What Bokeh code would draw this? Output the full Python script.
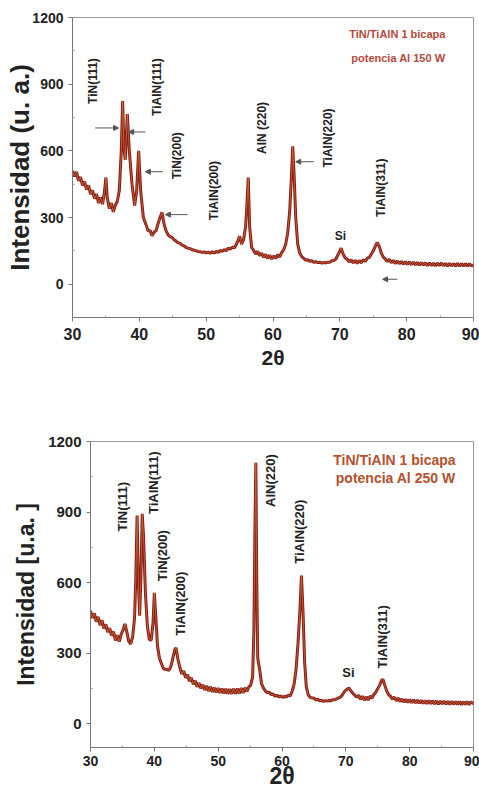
import math
from bokeh.plotting import figure
from bokeh.models import Range1d, FixedTicker, Arrow, NormalHead, ColumnDataSource
from bokeh.embed import file_html
from bokeh.resources import INLINE
from bokeh.core.properties import value

# ---------------- data: 150 W ----------------
tth_150 = [30.0, 30.3, 30.6, 30.9, 31.2, 31.5, 31.8, 32.1, 32.4, 32.7, 33.0, 33.3, 33.6, 33.9, 34.2, 34.5, 34.8, 35.0, 35.2, 35.5,
           35.8, 36.1, 36.4, 36.7, 37.0, 37.3, 37.5, 37.7, 37.9, 38.2, 38.5, 38.9, 39.3, 39.6, 39.9, 40.2, 40.6, 41.0, 41.3, 41.6,
           41.9, 42.2, 42.5, 42.8, 43.1, 43.4, 43.7, 44.0, 44.3, 44.6, 44.9, 45.2, 45.5, 45.8, 46.1, 46.4, 46.7, 47.0, 47.3, 47.6,
           47.9, 48.2, 48.5, 48.8, 49.1, 49.4, 49.7, 50.0, 50.3, 50.6, 50.9, 51.2, 51.5, 51.8, 52.1, 52.4, 52.7, 53.0, 53.3, 53.6,
           53.9, 54.2, 54.5, 54.8, 55.0, 55.3, 55.6, 55.9, 56.1, 56.3, 56.5, 56.8, 57.1, 57.4, 57.7, 58.0, 58.3, 58.6, 58.9, 59.2,
           59.5, 59.8, 60.1, 60.4, 60.7, 61.0, 61.3, 61.6, 61.9, 62.2, 62.5, 62.75, 62.95, 63.15, 63.4, 63.7, 64.0, 64.3, 64.6, 64.9,
           65.2, 65.5, 65.8, 66.1, 66.4, 66.7, 67.0, 67.3, 67.6, 67.9, 68.2, 68.5, 68.8, 69.1, 69.4, 69.7, 70.0, 70.2, 70.5, 70.8,
           71.1, 71.4, 71.7, 72.0, 72.3, 72.6, 72.9, 73.2, 73.5, 73.8, 74.1, 74.4, 74.7, 75.0, 75.3, 75.6, 75.9, 76.2, 76.5, 76.8,
           77.1, 77.4, 77.7, 78.0, 78.3, 78.6, 78.9, 79.2, 79.5, 79.8, 80.1, 80.4, 80.7, 81.0, 81.3, 81.6, 81.9, 82.2, 82.5, 82.8,
           83.1, 83.4, 83.7, 84.0, 84.3, 84.6, 84.9, 85.2, 85.5, 85.8, 86.1, 86.4, 86.7, 87.0, 87.3, 87.6, 87.9, 88.2, 88.5, 88.8,
           89.1, 89.4, 89.7, 90.0]
int_150 = [510, 485, 505, 465, 482, 445, 462, 425, 445, 405, 422, 385, 405, 365, 390, 360, 420, 480, 390, 340,
           365, 325, 355, 372, 420, 600, 824, 610, 560, 766, 600, 450, 354, 420, 600, 420, 300, 268, 240, 242,
           218, 234, 240, 272, 300, 323, 270, 240, 222, 214, 210, 200, 194, 186, 184, 176, 172, 165, 162, 160,
           155, 153, 150, 147, 146, 144, 145, 141, 144, 139, 146, 140, 148, 142, 152, 147, 156, 150, 162, 157,
           166, 163, 178, 200, 215, 180, 200, 260, 360, 480, 260, 165, 152, 136, 147, 128, 140, 120, 134, 116,
           130, 113, 127, 116, 132, 123, 142, 155, 180, 230, 330, 480, 620, 500, 300, 180, 140, 124, 116, 108,
           110, 103, 105, 99, 101, 97, 99, 95, 97, 96, 99, 99, 105, 106, 113, 130, 150, 162, 135, 118,
           112, 100, 110, 96, 107, 94, 106, 96, 110, 102, 117, 120, 135, 150, 170, 188, 170, 140, 122, 114,
           102, 112, 96, 107, 93, 104, 92, 102, 90, 101, 89, 100, 88, 99, 87, 98, 86, 97, 86, 96,
           84, 95, 84, 94, 83, 94, 84, 95, 83, 93, 82, 93, 83, 92, 82, 93, 82, 92, 81, 92,
           82, 92, 81, 88]

lbl_150 = ["TiN(111)", "TiAlN(111)", "TiN(200)", "TiAlN(200)", "AlN (220)", "TiAlN(220)", "TiAlN(311)"]
lbl_x_150 = [33.1, 42.7, 45.6, 51.1, 58.4, 68.2, 76.1]
lbl_y_150 = [914, 887, 578, 421, 703, 658, 434]
arr_x0_150 = [33.4, 40.9, 43.5, 47.2, 66.1, 78.6]
arr_x1_150 = [36.9, 38.4, 40.9, 43.9, 63.4, 76.4]
arr_y_150 = [703, 685, 506, 313, 551, 22]

# ---------------- data: 250 W ----------------
tth_250 = [30.0, 30.3, 30.6, 30.9, 31.2, 31.5, 31.8, 32.1, 32.4, 32.7, 33.0, 33.3, 33.6, 33.9, 34.2, 34.5, 34.8, 35.1, 35.4, 35.7,
           36.0, 36.3, 36.6, 36.9, 37.1, 37.3, 37.5, 37.7, 37.9, 38.1, 38.3, 38.6, 38.9, 39.2, 39.5, 39.8, 40.0, 40.2, 40.5, 40.8,
           41.1, 41.4, 41.7, 42.0, 42.3, 42.6, 42.9, 43.2, 43.4, 43.7, 44.0, 44.3, 44.6, 44.9, 45.2, 45.5, 45.8, 46.1, 46.4, 46.7,
           47.0, 47.3, 47.6, 47.9, 48.2, 48.5, 48.8, 49.1, 49.4, 49.7, 50.0, 50.3, 50.6, 50.9, 51.2, 51.5, 51.8, 52.1, 52.4, 52.7,
           53.0, 53.3, 53.6, 53.9, 54.2, 54.5, 54.8, 55.1, 55.4, 55.6, 55.75, 55.9, 56.05, 56.2, 56.5, 56.8, 57.1, 57.4, 57.7, 58.0,
           58.3, 58.6, 58.9, 59.2, 59.5, 59.8, 60.1, 60.4, 60.7, 61.0, 61.3, 61.6, 61.9, 62.2, 62.5, 62.8, 63.05, 63.3, 63.55, 63.8,
           64.1, 64.4, 64.7, 65.0, 65.3, 65.6, 65.9, 66.2, 66.5, 66.8, 67.1, 67.4, 67.7, 68.0, 68.3, 68.6, 68.9, 69.2, 69.5, 69.8,
           70.1, 70.5, 70.8, 71.1, 71.4, 71.7, 72.0, 72.3, 72.6, 72.9, 73.2, 73.5, 73.8, 74.1, 74.4, 74.7, 75.0, 75.3, 75.6, 75.8,
           76.1, 76.4, 76.7, 77.0, 77.3, 77.6, 77.9, 78.2, 78.5, 78.8, 79.1, 79.4, 79.7, 80.0, 80.3, 80.6, 80.9, 81.2, 81.5, 81.8,
           82.1, 82.4, 82.7, 83.0, 83.3, 83.6, 83.9, 84.2, 84.5, 84.8, 85.1, 85.4, 85.7, 86.0, 86.3, 86.6, 86.9, 87.2, 87.5, 87.8,
           88.1, 88.4, 88.7, 89.0, 89.3, 89.6, 90.0]
int_250 = [480, 450, 470, 435, 455, 420, 440, 405, 423, 390, 407, 375, 393, 355, 377, 350, 380, 400, 425, 390,
           350, 340, 370, 450, 620, 885, 600, 460, 620, 893, 800, 560, 420, 360, 355, 430, 557, 470, 330, 280,
           258, 237, 232, 231, 228, 245, 280, 315, 324, 275, 240, 212, 225, 196, 209, 181, 196, 168, 184, 158,
           174, 151, 167, 144, 162, 140, 158, 136, 154, 134, 152, 132, 150, 130, 149, 128, 148, 128, 149, 129,
           150, 130, 152, 132, 154, 138, 157, 165, 200, 400, 800, 1110, 600, 280, 230, 170, 152, 140, 133, 135,
           125, 127, 118, 122, 115, 119, 113, 117, 115, 122, 120, 140, 170, 230, 340, 480, 630, 470, 260, 160,
           125, 113, 111, 109, 103, 105, 98, 101, 96, 99, 97, 100, 99, 103, 103, 107, 111, 115, 125, 138,
           145, 153, 140, 130, 122, 113, 122, 105, 118, 101, 115, 102, 118, 110, 125, 135, 150, 165, 185, 190,
           165, 140, 125, 117, 106, 114, 98, 110, 95, 106, 93, 105, 91, 104, 90, 103, 89, 102, 88, 101,
           87, 100, 86, 99, 86, 98, 85, 98, 84, 97, 85, 97, 84, 96, 83, 96, 84, 95, 83, 95,
           82, 94, 83, 95, 82, 94, 86]

lbl_250 = ["TiN(111)", "TiAlN(111)", "TiN(200)", "TiAlN(200)", "AlN(220)", "TiAlN(220)", "TiAlN(311)"]
lbl_x_250 = [35.0, 39.9, 41.3, 44.1, 58.2, 62.7, 75.7]
lbl_y_250 = [923, 1025, 715, 511, 1034, 817, 370]

FONT = "Liberation Sans"
DARK = "#8b1a1a"
ORANGE = "#e0943a"
TXT = "#222222"


def make_fig(h, border_left, border_top, border_bottom, ymin, tth, inten, lbls, lx, ly,
             si_x, si_y, leg_lines, leg_x, leg_y, leg_size, leg_color, ylabel, ylabel_size,
             ylabel_standoff, ytick_size, xtick_size, xlab_size, xtick_standoff, xlab_standoff,
             lbl_size):
    p = figure(width=479, height=h, output_backend="svg", toolbar_location=None,
               x_range=Range1d(30, 90), y_range=Range1d(ymin, 1200))
    p.min_border_left = border_left
    p.min_border_right = 6
    p.min_border_top = border_top
    p.min_border_bottom = border_bottom
    p.xgrid.visible = False
    p.ygrid.visible = False
    p.outline_line_color = "#999999"
    p.background_fill_color = "white"
    p.border_fill_color = "white"

    p.xaxis.ticker = FixedTicker(ticks=[30, 40, 50, 60, 70, 80, 90],
                                 minor_ticks=[35, 45, 55, 65, 75, 85])
    p.yaxis.ticker = FixedTicker(ticks=[0, 300, 600, 900, 1200],
                                 minor_ticks=[150, 450, 750, 1050])
    for ax in (p.xaxis, p.yaxis):
        ax.axis_line_color = "#777777"
        ax.major_tick_line_color = "#777777"
        ax.minor_tick_line_color = "#999999"
        ax.major_tick_out = 4
        ax.major_tick_in = 0
        ax.minor_tick_out = 0
        ax.minor_tick_in = 2
        ax.major_label_text_font = FONT
        ax.major_label_text_font_style = "bold"
        ax.major_label_text_color = TXT
        ax.axis_label_text_font = FONT
        ax.axis_label_text_font_style = "bold"
        ax.axis_label_text_color = TXT
    p.yaxis.major_label_text_font_size = ytick_size
    p.xaxis.major_label_text_font_size = xtick_size
    p.yaxis.axis_label = ylabel
    p.yaxis.axis_label_text_font_size = ylabel_size
    p.yaxis.major_label_standoff = 5
    p.yaxis.axis_label_standoff = ylabel_standoff
    p.xaxis.axis_label = "2θ"
    p.xaxis.axis_label_text_font_size = xlab_size
    p.xaxis.major_label_standoff = xtick_standoff
    p.xaxis.axis_label_standoff = xlab_standoff

    src = ColumnDataSource(data=dict(x=tth, y=inten))
    p.line("x", "y", source=src, line_color=DARK, line_width=3)
    p.line("x", "y", source=src, line_color=ORANGE, line_width=0.8, line_alpha=0.7)

    lsrc = ColumnDataSource(data=dict(x=lx, y=ly, t=lbls))
    p.text("x", "y", text="t", source=lsrc, angle=math.pi / 2,
           text_align="center", text_baseline="middle",
           text_font=value(FONT), text_font_style="bold",
           text_font_size=lbl_size, text_color=TXT)
    p.text([si_x], [si_y], text=["Si"], text_align="center", text_baseline="middle",
           text_font=value(FONT), text_font_style="bold",
           text_font_size=lbl_size, text_color=TXT)
    p.text([leg_x] * len(leg_lines), leg_y, text=leg_lines, text_align="right",
           text_baseline="middle", text_font=value(FONT), text_font_style="bold",
           text_font_size=leg_size, text_color=leg_color)
    return p


p1 = make_fig(372, 72, 17, 55, -150, tth_150, int_150, lbl_150, lbl_x_150, lbl_y_150,
              70.1, 215, ["TiN/TiAlN 1 bicapa", "potencia Al 150 W"], 85.8, [1128, 1017],
              "11px", "#b5493a", "Intensidad (u. a.)", "26px", -6,
              "14px", "16px", "21px", 6, 3, "12px")
for xa, xb, ya in zip(arr_x0_150, arr_x1_150, arr_y_150):
    p1.add_layout(Arrow(end=NormalHead(size=5, fill_color="#555555", line_color="#555555"),
                        x_start=xa, y_start=ya, x_end=xb, y_end=ya,
                        line_color="#555555", line_width=1))

p2 = make_fig(425, 90, 69, 50, -100, tth_250, int_250, lbl_250, lbl_x_250, lbl_y_250,
              70.4, 217, ["TiN/TiAlN 1 bicapa", "potencia Al 250 W"], 87.2, [1123, 1047],
              "14px", "#b5502d", "Intensidad [u.a. ]", "23px", 6,
              "15px", "14px", "23px", 4, -6, "13px")

open("out.html", "w").write(file_html([p1, p2], INLINE))
